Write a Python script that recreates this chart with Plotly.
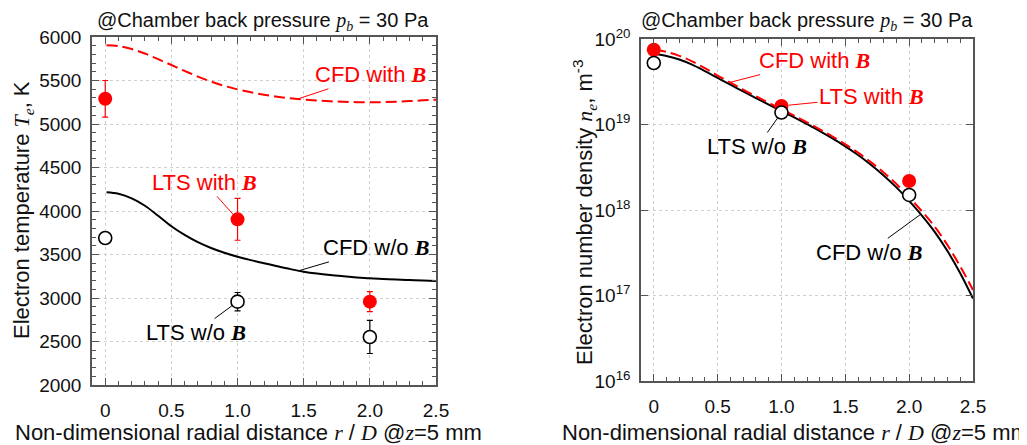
import math
import plotly.graph_objects as go

# ---------------- data ----------------
# Left panel: electron temperature (K)
x_cfd_T = [0.01, 0.1, 0.2, 0.3, 0.4, 0.5, 0.6, 0.7, 0.8, 0.9, 1.0, 1.1, 1.2, 1.3, 1.4,
           1.5, 1.6, 1.7, 1.8, 1.9, 2.0, 2.1, 2.2, 2.3, 2.4, 2.5]
Te_cfd_withB = [5905, 5895, 5862, 5810, 5745, 5678, 5610, 5545, 5488, 5438, 5398, 5365,
                5337, 5313, 5295, 5282, 5270, 5261, 5255, 5251, 5250, 5252, 5256, 5263,
                5272, 5280]
Te_cfd_woB = [4215, 4198, 4145, 4060, 3945, 3825, 3725, 3642, 3575, 3520, 3475, 3435,
              3400, 3365, 3332, 3303, 3281, 3264, 3250, 3237, 3226, 3219, 3212, 3206,
              3200, 3195]

x_lts = [0.0, 1.0, 2.0]
Te_lts_withB = [5290, 3904, 2958]
Te_lts_withB_err = [210, 240, 115]
Te_lts_woB = [3690, 2958, 2552]
Te_lts_woB_err = [15, 105, 190]

# Right panel: electron number density (m^-3)
x_cfd_n = [0.01, 0.1, 0.2, 0.3, 0.4, 0.5, 0.6, 0.7, 0.8, 0.9, 1.0, 1.1, 1.2, 1.3, 1.4,
           1.5, 1.6, 1.7, 1.8, 1.9, 2.0, 2.1, 2.2, 2.3, 2.4, 2.5]
ne_cfd_woB = [6.67e19, 6.31e19, 5.75e19, 5.01e19, 4.22e19, 3.51e19, 2.92e19, 2.44e19,
              2.04e19, 1.71e19, 1.44e19, 1.21e19, 1.01e19, 8.39e18, 6.89e18, 5.56e18,
              4.40e18, 3.39e18, 2.54e18, 1.84e18, 1.28e18, 8.61e17, 5.56e17, 3.31e17,
              1.82e17, 9.2e16]
ne_cfd_withB = [7.48e19, 7.05e19, 6.35e19, 5.47e19, 4.55e19, 3.74e19, 3.09e19, 2.56e19,
                2.14e19, 1.79e19, 1.51e19, 1.27e19, 1.06e19, 8.79e18, 7.24e18, 5.87e18,
                4.68e18, 3.63e18, 2.75e18, 2.01e18, 1.41e18, 9.66e17, 6.38e17, 3.89e17,
                2.19e17, 1.16e17]
ne_lts_withB = [7.5e19, 1.65e19, 2.18e18]
ne_lts_withB_err = [3.0e18, 1.0e18, 1.0e17]
ne_lts_woB = [5.24e19, 1.38e19, 1.5e18]
ne_lts_woB_err = [1.5e18, 1.4e18, 1.5e17]

x_tickvals = [0, 0.5, 1.0, 1.5, 2.0, 2.5]
x_ticktext = ["0", "0.5", "1.0", "1.5", "2.0", "2.5"]
T_tickvals = [2000, 2500, 3000, 3500, 4000, 4500, 5000, 5500, 6000]
n_tickvals = [1e16, 1e17, 1e18, 1e19, 1e20]
n_ticktext = ["10<sup>16</sup>", "10<sup>17</sup>", "10<sup>18</sup>",
              "10<sup>19</sup>", "10<sup>20</sup>"]
n_minor_vals = [m * d for d in [1e16, 1e17, 1e18, 1e19] for m in range(2, 10)]

# ---------------- styling ----------------
RED = "#ff0000"
BLACK = "#000000"
FRAME = "#555555"
SANS = "Liberation Sans, Arial, sans-serif"
W, H = 1027, 445
OFF = 8  # page body margin in the viewer


def fx(px):
    return (px - OFF) / W


def fy(py):
    return 1 - (py - OFF) / H


def serif(s, bold=False):
    inner = "<i>%s</i>" % s
    if bold:
        inner = "<b>%s</b>" % inner
    return "<span style=\"font-family:'Liberation Serif'\">%s</span>" % inner


B = serif("B", bold=True)

fig = go.Figure()

# ----- left panel traces -----
fig.add_trace(go.Scatter(x=x_cfd_T, y=Te_cfd_withB, mode="lines",
                         line=dict(color=RED, width=2, dash="11px,5px", shape="spline"),
                         xaxis="x", yaxis="y", showlegend=False))
fig.add_trace(go.Scatter(x=x_cfd_T, y=Te_cfd_woB, mode="lines",
                         line=dict(color=BLACK, width=2, shape="spline"),
                         xaxis="x", yaxis="y", showlegend=False))
fig.add_trace(go.Scatter(x=x_lts, y=Te_lts_withB, mode="markers",
                         marker=dict(color=RED, size=14, line=dict(width=0)),
                         error_y=dict(type="data", array=Te_lts_withB_err, color=RED,
                                      thickness=1.2, width=3),
                         xaxis="x", yaxis="y", showlegend=False))
fig.add_trace(go.Scatter(x=x_lts, y=Te_lts_woB, mode="markers",
                         marker=dict(color="white", size=13,
                                     line=dict(color=BLACK, width=1.6)),
                         error_y=dict(type="data", array=Te_lts_woB_err, color=BLACK,
                                      thickness=1.2, width=3),
                         xaxis="x", yaxis="y", showlegend=False))

# ----- right panel traces -----
fig.add_trace(go.Scatter(x=x_cfd_n, y=ne_cfd_woB, mode="lines",
                         line=dict(color=BLACK, width=2, shape="spline"),
                         xaxis="x2", yaxis="y2", showlegend=False))
fig.add_trace(go.Scatter(x=x_cfd_n, y=ne_cfd_withB, mode="lines",
                         line=dict(color=RED, width=2, dash="11px,5px", shape="spline"),
                         xaxis="x2", yaxis="y2", showlegend=False))
fig.add_trace(go.Scatter(x=x_lts, y=ne_lts_withB, mode="markers",
                         marker=dict(color=RED, size=14, line=dict(width=0)),
                         error_y=dict(type="data", array=ne_lts_withB_err, color=RED,
                                      thickness=1.2, width=3),
                         xaxis="x2", yaxis="y2", showlegend=False))
fig.add_trace(go.Scatter(x=x_lts, y=ne_lts_woB, mode="markers",
                         marker=dict(color="white", size=13,
                                     line=dict(color=BLACK, width=1.6)),
                         error_y=dict(type="data", array=ne_lts_woB_err, color=BLACK,
                                      thickness=1.2, width=3),
                         xaxis="x2", yaxis="y2", showlegend=False))

common_axis = dict(showline=True, linecolor=FRAME, linewidth=1.5, mirror="allticks",
                   ticks="inside", ticklen=7, tickwidth=1, tickcolor=FRAME,
                   showgrid=True, gridcolor="#d0d0d0", griddash="dot", gridwidth=1,
                   zeroline=False, automargin=False,
                   tickfont=dict(family=SANS, size=19, color="#111111"))

xax = dict(common_axis, range=[-0.1, 2.5], tickmode="array", tickvals=x_tickvals,
           ticktext=x_ticktext, ticklabelstandoff=7,
           minor=dict(ticks="inside", ticklen=4, dtick=0.1, tickcolor=FRAME,
                      showgrid=False))

fig.update_layout(
    width=W, height=H, autosize=False,
    margin=dict(l=0, r=0, t=0, b=0, pad=0),
    paper_bgcolor="white", plot_bgcolor="white",
    xaxis=dict(xax, domain=[fx(92), fx(436)], anchor="y"),
    yaxis=dict(common_axis, domain=[fy(385), fy(37)], anchor="x",
               range=[2000, 6000], tickmode="array", tickvals=T_tickvals,
               ticklabelstandoff=5,
               minor=dict(ticks="inside", ticklen=4, dtick=100, tickcolor=FRAME,
                          showgrid=False)),
    xaxis2=dict(xax, domain=[fx(641), fx(973)], anchor="y2"),
    yaxis2=dict(common_axis, domain=[fy(381), fy(39)], anchor="x2",
                type="log", range=[16, 20], tickmode="array", tickvals=n_tickvals,
                ticktext=n_ticktext, ticklabelstandoff=5),
    yaxis3=dict(type="log", range=[16, 20], overlaying="y2", anchor="x2",
                domain=[fy(381), fy(39)],
                tickmode="array", tickvals=n_minor_vals, ticks="inside", ticklen=4,
                tickwidth=1, tickcolor=FRAME, showticklabels=False, showgrid=False,
                showline=False, mirror="ticks", zeroline=False, automargin=False),
    showlegend=False,
)

ann = []
# panel titles
title_txt = ("@Chamber back pressure " +
             "<span style=\"font-family:'Liberation Serif'\"><i>p</i><sub><i>b</i></sub></span>"
             " = 30 Pa")
for xc in [263, 807]:
    ann.append(dict(xref="paper", yref="paper", x=fx(xc), y=fy(21), text=title_txt,
                    showarrow=False, font=dict(family=SANS, size=20, color="#111111"),
                    xanchor="center", yanchor="middle"))
# x titles
xtitle = ("Non-dimensional radial distance " + serif("r") + " / " + serif("D") +
          " @" + serif("z") + "=5 mm")
for xc in [248, 795]:
    ann.append(dict(xref="paper", yref="paper", x=fx(xc), y=fy(432), text=xtitle,
                    showarrow=False, font=dict(family=SANS, size=22, color="#111111"),
                    xanchor="center", yanchor="middle"))
# y titles
ann.append(dict(xref="paper", yref="paper", x=fx(23), y=fy(210),
                text="Electron temperature " +
                     "<span style=\"font-family:'Liberation Serif'\"><i>T</i><sub><i>e</i></sub></span>, K",
                textangle=-90, showarrow=False,
                font=dict(family=SANS, size=22, color="#111111"),
                xanchor="center", yanchor="middle"))
ann.append(dict(xref="paper", yref="paper", x=fx(584), y=fy(213),
                text="Electron number density " +
                     "<span style=\"font-family:'Liberation Serif'\"><i>n</i><sub><i>e</i></sub></span>"
                     ", m<sup>-3</sup>",
                textangle=-90, showarrow=False,
                font=dict(family=SANS, size=22, color="#111111"),
                xanchor="center", yanchor="middle"))


def label(text, xa, ya, x, y, ax, ay, color, standoff=0, log=False):
    yv = math.log10(y) if log else y
    ann.append(dict(xref=xa, yref=ya, x=x, y=yv, ax=ax, ay=ay, text=text,
                    showarrow=True, arrowhead=0, arrowwidth=1, arrowcolor=color,
                    standoff=standoff,
                    font=dict(family=SANS, size=22, color=color)))


# left panel labels
label("CFD with " + B, "x", "y", 1.46, 5290, 72, -24, RED)
label("LTS with " + B, "x", "y", 1.0, Te_lts_withB[1], -33, -37, RED, standoff=7)
label("CFD w/o " + B, "x", "y", 1.46, 3312, 78, -23, BLACK)
label("LTS w/o " + B, "x", "y", 1.0, Te_lts_woB[1], -42, 31, BLACK, standoff=7)
# right panel labels (log axis: annotation y in log10 units)
label("CFD with " + B, "x2", "y2", 0.59, 3.09e19, 85, -22, RED, log=True)
label("LTS with " + B, "x2", "y2", 1.0, ne_lts_withB[1], 90, -9, RED, standoff=7, log=True)
label("LTS w/o " + B, "x2", "y2", 1.0, ne_lts_woB[1], -24, 34, BLACK, standoff=7, log=True)
label("CFD w/o " + B, "x2", "y2", 2.09, 8.9e17, -52, 38, BLACK, log=True)

fig.update_layout(annotations=ann)

fig.write_html("out.html")
